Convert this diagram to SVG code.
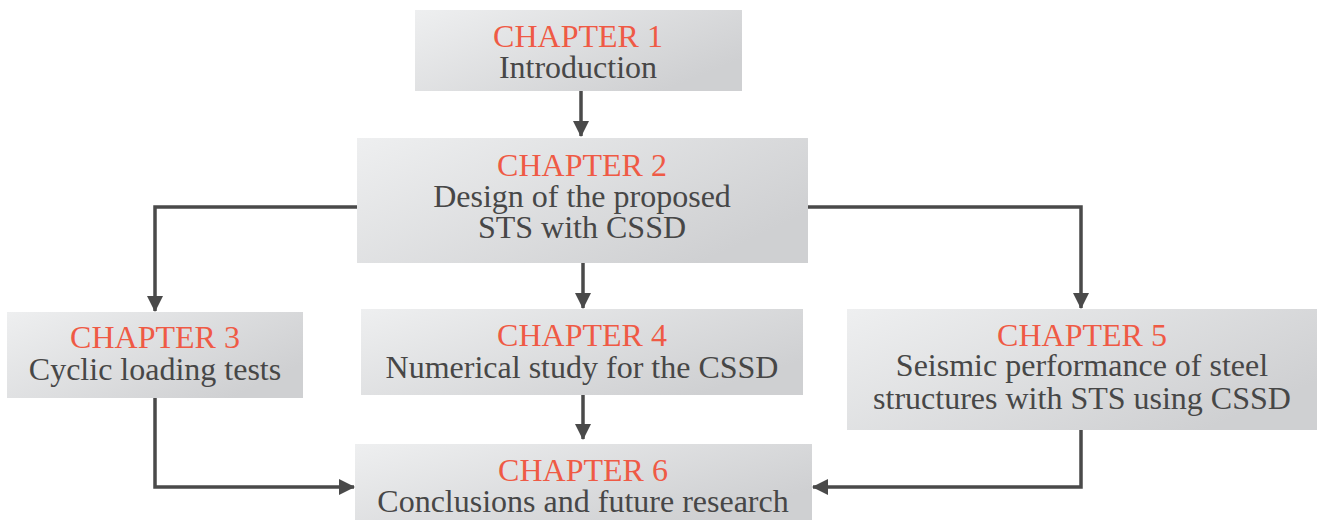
<svg xmlns="http://www.w3.org/2000/svg" width="1318" height="520" viewBox="0 0 1318 520">
<defs>
<linearGradient id="g" x1="0" y1="0" x2="1" y2="0.6">
<stop offset="0" stop-color="#eeeff0"/>
<stop offset="1" stop-color="#cfd0d2"/>
</linearGradient>
<marker id="ah" markerWidth="16" markerHeight="16" refX="15" refY="8" orient="auto" markerUnits="userSpaceOnUse">
<path d="M0,0 L16,8 L0,16 Z" fill="#4a4a4a"/>
</marker>
<style>
.box{fill:url(#g);}
text{font-family:"Liberation Serif","Times New Roman",serif;font-size:32px;text-anchor:middle;}
.r{fill:#ef5a45;}
.d{fill:#474747;}
.c{fill:none;stroke:#4a4a4a;stroke-width:3.5;marker-end:url(#ah);}
</style>
</defs>
<rect width="1318" height="520" fill="#ffffff"/>
<g id="connectors">
<path class="c" d="M581,91 L581,136"/>
<path class="c" d="M357,207 L155,207 L155,311"/>
<path class="c" d="M808,207 L1081,207 L1081,308"/>
<path class="c" d="M583,263 L583,308"/>
<path class="c" d="M583,395 L583,439"/>
<path class="c" d="M155,398 L155,487 L354,487"/>
<path class="c" d="M1081,430 L1081,487 L813,487"/>
</g>
<g id="ch1">
<rect class="box" x="415" y="10" width="327" height="81"/>
<text class="r" x="578" y="47">CHAPTER 1</text>
<text class="d" x="578" y="78">Introduction</text>
</g>
<g id="ch2">
<rect class="box" x="357" y="138" width="451" height="125"/>
<text class="r" x="582" y="176">CHAPTER 2</text>
<text class="d" x="582" y="207">Design of the proposed</text>
<text class="d" x="582" y="238">STS with CSSD</text>
</g>
<g id="ch3">
<rect class="box" x="7" y="312" width="296" height="86"/>
<text class="r" x="155" y="348">CHAPTER 3</text>
<text class="d" x="155" y="380">Cyclic loading tests</text>
</g>
<g id="ch4">
<rect class="box" x="361" y="309" width="442" height="86"/>
<text class="r" x="582" y="346">CHAPTER 4</text>
<text class="d" x="582" y="378">Numerical study for the CSSD</text>
</g>
<g id="ch5">
<rect class="box" x="847" y="309" width="470" height="121"/>
<text class="r" x="1082" y="346">CHAPTER 5</text>
<text class="d" x="1082" y="376">Seismic performance of steel</text>
<text class="d" x="1082" y="409">structures with STS using CSSD</text>
</g>
<g id="ch6">
<rect class="box" x="355" y="444" width="457" height="76"/>
<text class="r" x="583" y="481">CHAPTER 6</text>
<text class="d" x="583" y="512">Conclusions and future research</text>
</g>
</svg>
